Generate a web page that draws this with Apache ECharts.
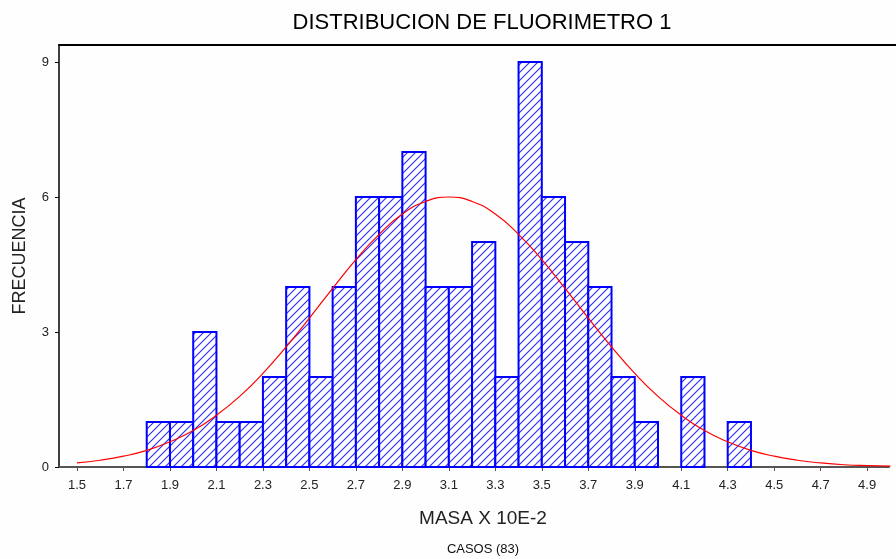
<!DOCTYPE html>
<html><head><meta charset="utf-8">
<script src="https://cdn.jsdelivr.net/npm/echarts@6/dist/echarts.min.js"></script>
<style>html,body{margin:0;padding:0;background:#fefefe}#c{width:896px;height:559px}</style>
</head><body><div id="c"></div>
<script>
const titleText = 'DISTRIBUCION DE FLUORIMETRO 1';
const xName = 'MASA X 10E-2';
const yName = 'FRECUENCIA';
const caption = 'CASOS (83)';
const binStarts = [1.8,1.9,2.0,2.1,2.2,2.3,2.4,2.5,2.6,2.7,2.8,2.9,3.0,3.1,3.2,3.3,3.4,3.5,3.6,3.7,3.8,3.9,4.0,4.1,4.2,4.3];
const binEnds   = [1.9,2.0,2.1,2.2,2.3,2.4,2.5,2.6,2.7,2.8,2.9,3.0,3.1,3.2,3.3,3.4,3.5,3.6,3.7,3.8,3.9,4.0,4.1,4.2,4.3,4.4];
const counts    = [1,1,3,1,1,2,4,2,4,6,6,7,4,4,5,2,9,6,5,4,2,1,0,2,0,1];
const curveX = [1.5,1.6,1.7,1.8,1.9,2.0,2.1,2.2,2.3,2.4,2.5,2.6,2.7,2.8,2.9,3.0,3.1,3.2,3.3,3.4,3.5,3.6,3.7,3.8,3.9,4.0,4.1,4.2,4.3,4.4,4.5,4.6,4.7,4.8,4.9,5.0];
const curveY = [0.09,0.15,0.24,0.37,0.56,0.81,1.15,1.57,2.08,2.67,3.31,3.97,4.61,5.17,5.62,5.90,6.00,5.90,5.62,5.17,4.61,3.97,3.31,2.67,2.08,1.57,1.15,0.81,0.56,0.37,0.24,0.15,0.09,0.05,0.03,0.02];
const xTicks = [1.5,1.7,1.9,2.1,2.3,2.5,2.7,2.9,3.1,3.3,3.5,3.7,3.9,4.1,4.3,4.5,4.7,4.9];
const yTicks = [0,3,6,9];

function hatch(){
  const n = 8;
  const c = document.createElement('canvas'); c.width = n; c.height = n;
  const g = c.getContext('2d');
  g.fillStyle = '#fefefe'; g.fillRect(0,0,n,n);
  g.strokeStyle = '#2a2aff'; g.lineWidth = 1.1;
  g.beginPath();
  g.moveTo(-1,n+1); g.lineTo(n+1,-1);
  g.moveTo(-1,1); g.lineTo(1,-1);
  g.moveTo(n-1,n+1); g.lineTo(n+1,n-1);
  g.stroke();
  return c;
}
const pat = hatch();
const font = '"Liberation Sans", Arial, sans-serif';

const chart = echarts.init(document.getElementById('c'), null, {renderer:'canvas'});
chart.setOption({
  backgroundColor: '#fefefe',
  animation: false,
  textStyle: {fontFamily: font},
  graphic: [
    {type:'text', x:482, y:23, style:{text:titleText, font:'22px ' + font, fill:'#000', textAlign:'center', textVerticalAlign:'middle'}},
    {type:'text', x:483, y:549, style:{text:caption, font:'13px ' + font, fill:'#111', textAlign:'center', textVerticalAlign:'middle'}}
  ],
  grid: [
    {left:59, right:7, top:45, bottom:92},
    {left:59, right:0, top:45, bottom:92}
  ],
  xAxis: [
    {type:'value', gridIndex:0, min:1.4225, max:4.994,
     name:xName, nameLocation:'middle', nameGap:42,
     nameTextStyle:{fontSize:19, color:'#222', padding:[0,0,0,18]},
     axisLine:{show:true, lineStyle:{color:'#555', width:2}},
     axisTick:{show:true, length:4, customValues:xTicks, lineStyle:{color:'#555'}},
     axisLabel:{customValues:xTicks, fontSize:13, color:'#222', margin:12, formatter:v=>v.toFixed(1)},
     splitLine:{show:false}},
    {type:'value', gridIndex:1, position:'top', min:0, max:1,
     axisLine:{show:true, onZero:false, lineStyle:{color:'#000', width:2}},
     axisTick:{show:false}, axisLabel:{show:false}, splitLine:{show:false}}
  ],
  yAxis: [
    {type:'value', gridIndex:0, min:0, max:9.378,
     name:yName, nameLocation:'middle', nameRotate:90, nameGap:30,
     nameTextStyle:{fontSize:18, color:'#222'},
     axisLine:{show:true, lineStyle:{color:'#000', width:1.5}},
     axisTick:{show:true, length:4, customValues:yTicks, lineStyle:{color:'#000'}},
     axisLabel:{customValues:yTicks, fontSize:13, color:'#222', margin:10},
     splitLine:{show:false}},
    {type:'value', gridIndex:1, min:0, max:1, show:false}
  ],
  series: [
    {type:'custom', xAxisIndex:0, yAxisIndex:0,
     data: binStarts.map((s,i)=>[s, binEnds[i], counts[i]]),
     encode:{x:[0,1], y:2},
     renderItem:function(params, api){
       const v = api.value(2);
       if (!v) return null;
       const p0 = api.coord([api.value(0), v]);
       const p1 = api.coord([api.value(1), 0]);
       return {type:'rect',
         shape:{x:p0[0], y:p0[1], width:p1[0]-p0[0], height:p1[1]-p0[1]},
         style:{fill:{image:pat, repeat:'repeat'}, stroke:'#0000ff', lineWidth:2}};
     }, z:2},
    {type:'line', xAxisIndex:0, yAxisIndex:0, smooth:true, symbol:'none', clip:false,
     data: curveX.map((x,i)=>[x, curveY[i]]),
     lineStyle:{color:'#ff0000', width:1.2}, z:3}
  ]
});
</script></body></html>
